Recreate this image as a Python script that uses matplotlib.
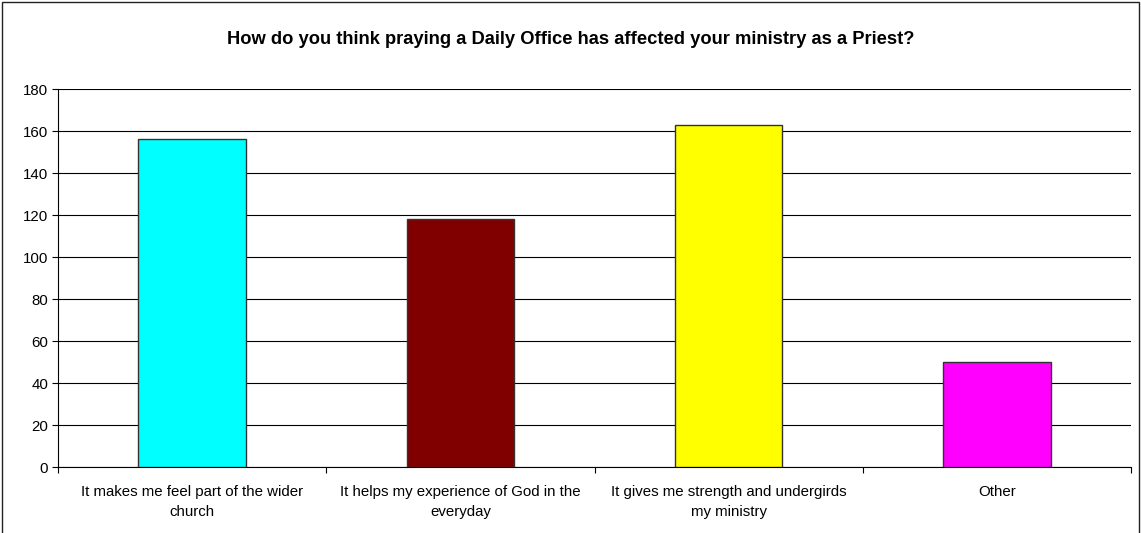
import numpy as np
import matplotlib.pyplot as plt
from matplotlib.patches import Rectangle

plt.rcParams['font.family'] = ['Liberation Sans', 'DejaVu Sans']

# Survey responses
categories = ['It makes me feel part of the wider\nchurch',
              'It helps my experience of God in the\neveryday',
              'It gives me strength and undergirds\nmy ministry',
              'Other']
counts = [156, 118, 163, 50]
colors = ['#00FFFF', '#800000', '#FFFF00', '#FF00FF']

fig = plt.figure(figsize=(11.41, 5.33), dpi=100)
ax = fig.add_axes([0.0508, 0.1238, 0.9405, 0.7092])

x = np.arange(len(categories))
ax.bar(x, counts, width=0.4, color=colors, edgecolor='#333333', linewidth=1, zorder=3)

ax.set_xlim(-0.5, len(categories) - 0.5)
ax.set_ylim(0, 180)
ax.set_yticks(np.arange(0, 181, 20))
ax.yaxis.grid(True, color='black', linewidth=0.8, zorder=0)

# category labels centred, ticks on the boundaries
ax.set_xticks(x)
ax.set_xticklabels(categories, fontsize=10.8, linespacing=1.5)
ax.tick_params(axis='x', which='major', length=0, pad=13)
ax.set_xticks(np.arange(-0.5, len(categories)), minor=True)
ax.tick_params(axis='x', which='minor', length=4, direction='out', width=0.8)
ax.tick_params(axis='y', length=4, direction='out', width=0.8, labelsize=10.8, pad=3)

for s in ['top', 'right']:
    ax.spines[s].set_visible(False)
for s in ['left', 'bottom']:
    ax.spines[s].set_color('black')
    ax.spines[s].set_linewidth(0.8)

fig.text(0.5, 1 - 40 / 533, 'How do you think praying a Daily Office has affected your ministry as a Priest?',
         ha='center', va='center', fontsize=13.2, fontweight='bold')

# outer chart border
fig.patches.append(Rectangle((0.002, -0.01), 0.996, 1.006, transform=fig.transFigure,
                             fill=False, edgecolor='#222222', linewidth=1))

fig.savefig('out.png', dpi=100)
